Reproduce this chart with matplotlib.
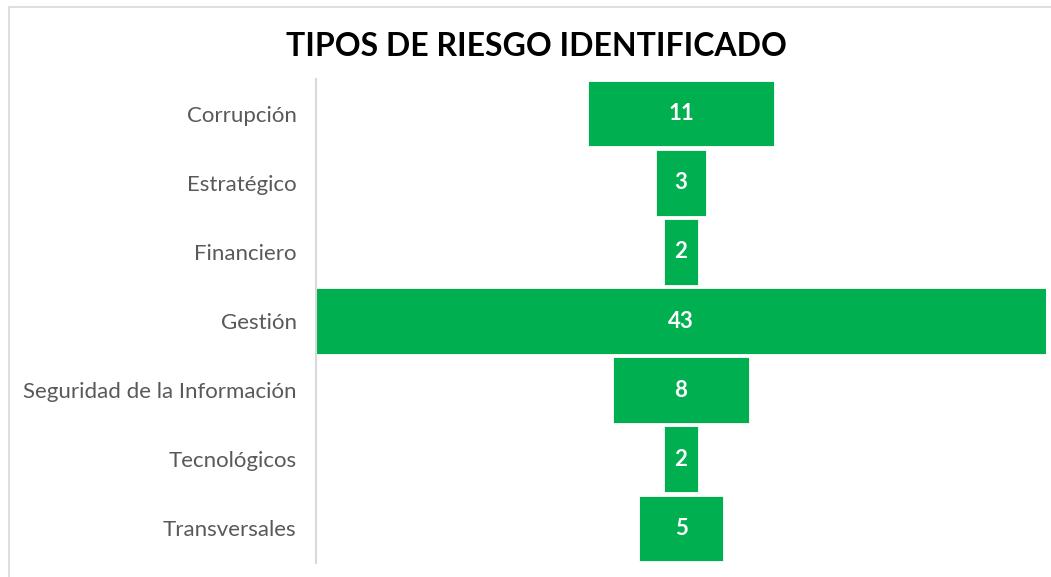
import matplotlib
matplotlib.use("Agg")
import matplotlib.pyplot as plt
from matplotlib.patches import Rectangle

categories = ["Corrupción", "Estratégico", "Financiero", "Gestión",
              "Seguridad de la Información", "Tecnológicos", "Transversales"]
values = [11, 3, 2, 43, 8, 2, 5]

W, H = 1051, 577
fig = plt.figure(figsize=(W / 100, H / 100), dpi=100)
fig.patch.set_facecolor("white")

# outer chart frame (clipped at right and bottom like the screenshot)
fig.patches.append(Rectangle((8.5 / W, -0.1), 1.2, (H - 6.5) / H + 0.1,
                             transform=fig.transFigure, fill=False,
                             edgecolor="#d9d9d9", linewidth=1.2))

ax = fig.add_axes([316 / W, 1 - 563 / H, (1046 - 316) / W, (563 - 79) / H])

ypos = list(range(len(categories)))
lefts = [-v / 2 for v in values]
ax.barh(ypos, values, left=lefts, height=0.95, color="#00B050",
        edgecolor="white", linewidth=0.6)

for y, v in zip(ypos, values):
    ax.text(0, y, str(v), ha="center", va="center", color="white",
            fontsize=16, fontweight="bold", family="Lato")

ax.set_xlim(-21.5, 21.5)
ax.set_ylim(6.5, -0.5)
ax.set_yticks(ypos)
ax.set_yticklabels(categories, fontsize=16, color="#595959", family="Lato")
ax.tick_params(axis="y", length=0, pad=14)
ax.set_xticks([])
for s in ["top", "right", "bottom"]:
    ax.spines[s].set_visible(False)
ax.spines["left"].set_color("#d9d9d9")
ax.spines["left"].set_linewidth(1.5)

fig.text(536 / W, 1 - 46 / H, "TIPOS DE RIESGO IDENTIFICADO", ha="center",
         va="center", fontsize=23, fontweight="bold", family="Lato",
         color="black")

fig.savefig("out.png", dpi=100)
